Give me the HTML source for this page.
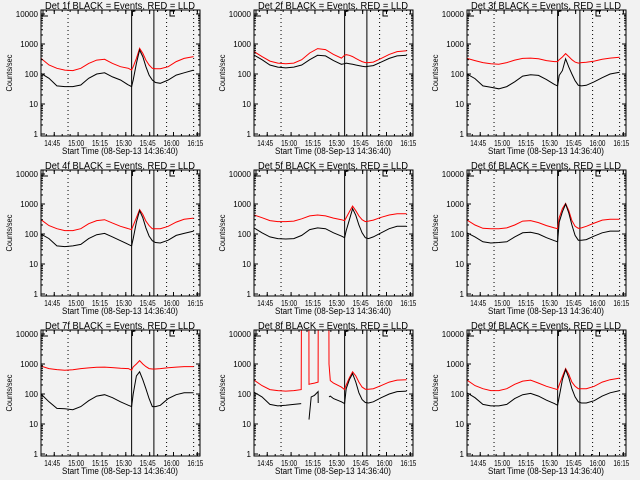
<!DOCTYPE html>
<html><head><meta charset="utf-8">
<style>
html,body{margin:0;padding:0;background:#f2f2f2;}
#wrap{position:relative;width:640px;height:480px;overflow:hidden;background:#f2f2f2;}
svg text{font-family:"Liberation Sans",sans-serif;fill:#000;}
</style></head>
<body>
<div id="wrap">
<svg id="chart" width="640" height="480" viewBox="0 0 640 480" xmlns="http://www.w3.org/2000/svg"></svg>
</div>
<script>
// ---- data (minutes after 14:36:40, counts/sec) ----
const times = [0,5,10,15,20,25,30,35,40,45,50,55,57,58,60,62,64,66,68,70,72,75,80,85,90,96];
const xTickLabels = ["14:45","15:00","15:15","15:30","15:45","16:00","16:15"];
const xTickTimes = [8.33,23.33,38.33,53.33,68.33,83.33,98.33];
const yTickLabels = ["1","10","100","1000","10000"];
const yTickValues = [1,10,100,1000,10000];
const dottedTimes = [17,79,96];
const solidTimes = [57,71];
const detNames = ["1f","2f","3f","4f","5f","6f","7f","8f","9f"];

const black1 = [105,72,40,38,38,43,72,100,110,80,63,43,38,63,225,630,380,175,92,63,52,49,63,92,110,135];
const red1   = [330,200,155,135,130,155,225,290,310,225,175,155,135,175,330,720,490,290,200,155,150,150,175,260,330,380];
const black2 = [430,300,200,170,160,170,200,300,420,400,280,210,220,230,220,210,200,190,180,175,180,190,250,330,400,420];
const red2   = [560,380,270,230,220,230,300,500,700,650,450,340,420,440,420,380,330,290,260,240,240,250,330,450,560,600];
const black3 = [100,70,40,36,32,38,55,85,95,90,65,45,40,90,130,320,170,100,60,42,40,42,55,75,100,115];
const red3   = [330,280,240,220,210,240,290,330,340,320,280,260,260,300,370,480,380,300,250,230,240,245,270,310,340,360];
const black4 = [100,70,40,38,40,45,70,95,105,80,60,45,40,70,250,600,350,160,85,60,52,50,62,90,105,125];
const red4   = [300,190,150,130,130,150,220,280,300,230,180,150,140,190,350,650,450,270,190,150,150,150,180,250,310,340];
const black5 = [160,110,80,70,68,70,90,140,160,150,110,85,75,130,300,700,420,200,110,75,70,80,110,150,180,180];
const red5   = [430,350,280,260,260,270,320,400,430,400,340,300,280,350,550,850,600,400,300,260,270,290,360,430,470,470];
const black6 = [110,80,55,50,52,55,80,110,115,100,75,60,55,250,550,1000,500,200,90,62,62,65,85,110,125,125];
const red6   = [290,200,155,150,150,160,200,270,280,240,190,160,150,350,700,1050,600,280,180,155,160,180,230,290,310,310];
const black7 = [100,55,33,32,30,38,60,85,95,75,55,42,38,100,400,550,300,150,70,38,38,42,70,95,110,110];
const red7   = [850,700,650,620,640,700,740,780,790,760,720,700,620,800,1000,1300,1000,820,700,680,680,700,750,790,820,820];
const black9 = [110,75,45,40,40,45,70,95,105,85,62,48,42,80,300,650,350,150,80,55,50,50,60,85,110,130];
const red9   = [290,190,150,130,130,150,210,270,290,230,180,150,140,200,380,700,450,250,180,150,150,150,180,250,300,340];

const times8 = [0,5,10,15,20,25,29.7,29.8,30,31,33,34.5,34.6,36,38,40.3,40.4,44,47.1,47.2,48,50,55,57,58,60,62,64,66,68,70,72,75,80,85,90,96];
const black8 = [115,80,45,40,42,45,48,null,null,null,null,null,14,80,90,120,50,null,null,80,85,70,55,48,150,300,480,250,110,65,52,50,55,75,100,120,125];
const red8   = [290,190,140,130,125,130,140,20000,20000,20000,20000,20000,210,220,230,250,20000,20000,20000,1000,280,230,170,140,200,350,550,400,250,170,145,145,150,190,250,290,300];

const panels = [
 {t:times,b:black1,r:red1},{t:times,b:black2,r:red2},{t:times,b:black3,r:red3},
 {t:times,b:black4,r:red4},{t:times,b:black5,r:red5},{t:times,b:black6,r:red6},
 {t:times,b:black7,r:red7},{t:times8,b:black8,r:red8},{t:times,b:black9,r:red9}
];

// ---- drawing ----
const NS="http://www.w3.org/2000/svg";
const svg=document.getElementById('chart');
const X0=41,X1=200,Y0=10,Y1=136;
function xs(t){return X0+t*1.59;}
function ys(v){return 134-30*Math.log10(v);}
function mk(tag,attrs,parent){const e=document.createElementNS(NS,tag);for(const k in attrs)e.setAttribute(k,attrs[k]);parent.appendChild(e);return e;}

panels.forEach((p,i)=>{
  const ox=(i%3)*213, oy=Math.floor(i/3)*160;
  const g=mk('g',{transform:`translate(${ox},${oy})`},svg);
  
  
  const cid='clip'+i;
  const cp=mk('clipPath',{id:cid},g);
  mk('rect',{x:X0,y:Y0,width:X1-X0,height:Y1-Y0},cp);

  dottedTimes.forEach(t=>{
    const l=mk('line',{x1:xs(t),x2:xs(t),y1:Y0,y2:Y1,stroke:'#000','stroke-width':1,'stroke-dasharray':'1,3'},g);
    
    
  });
  solidTimes.forEach(t=>{
    const l=mk('line',{x1:xs(t),x2:xs(t),y1:Y0,y2:Y1,stroke:'#000','stroke-width':1},g);
    
    
  });

  function series(vals,color,name){
    let d='',pen=false;
    vals.forEach((v,j)=>{
      if(v===null){pen=false;return;}
      d+=(pen?'L':'M')+xs(p.t[j]).toFixed(1)+','+ys(v).toFixed(1);
      pen=true;
    });
    const path=mk('path',{d:d,fill:'none',stroke:color,'stroke-width':1,'clip-path':`url(#${cid})`},g);
    
    
  }
  series(p.r,'#ff0000','red-lld-series');
  series(p.b,'#000000','black-events-series');

  const fr=mk('rect',{x:X0,y:Y0,width:X1-X0,height:Y1-Y0,fill:'none',stroke:'#000','stroke-width':1},g);
  
  

  yTickValues.forEach((v,k)=>{
    const y=ys(v);
    mk('line',{x1:X0,x2:X0+4,y1:y,y2:y,stroke:'#000'},g);
    mk('line',{x1:X1-4,x2:X1,y1:y,y2:y,stroke:'#000'},g);
    const tx=mk('text',{x:38,y:y+3,'font-size':8,'text-anchor':'end'},g);
    tx.textContent=yTickLabels[k];
    
    
    if(v<10000){for(let m=2;m<10;m++){const ym=ys(v*m);
      mk('line',{x1:X0,x2:X0+2,y1:ym,y2:ym,stroke:'#000'},g);
      mk('line',{x1:X1-2,x2:X1,y1:ym,y2:ym,stroke:'#000'},g);}}
  });
  for(let t=3.33;t<100;t+=5){const x=xs(t);
    mk('line',{x1:x,x2:x,y1:Y1,y2:Y1-2,stroke:'#000'},g);
    mk('line',{x1:x,x2:x,y1:Y0,y2:Y0+2,stroke:'#000'},g);}
  xTickTimes.forEach((t,k)=>{
    const x=xs(t);
    mk('line',{x1:x,x2:x,y1:Y1,y2:Y1-4,stroke:'#000'},g);
    mk('line',{x1:x,x2:x,y1:Y0,y2:Y0+4,stroke:'#000'},g);
    const tx=mk('text',{x:x-2,y:146,'font-size':8,'text-anchor':'middle',textLength:16,lengthAdjust:'spacingAndGlyphs'},g);
    tx.textContent=xTickLabels[k];
    
    
  });
  mk('path',{d:'M43,10V16H48',fill:'none',stroke:'#000'},g);
  mk('path',{d:`M${xs(57.5)},11V16M${xs(57.5)},11H${xs(57.5)+3}`,fill:'none',stroke:'#000'},g);
  mk('path',{d:'M175,11H170V16H175',fill:'none',stroke:'#000'},g);
  const tt=mk('text',{x:120,y:9,'font-size':10,'text-anchor':'middle',textLength:150,lengthAdjust:'spacingAndGlyphs'},g);
  tt.textContent=`Det ${detNames[i]} BLACK = Events, RED = LLD`;
  
  
  const xt=mk('text',{x:120,y:154,'font-size':9,'text-anchor':'middle',textLength:116,lengthAdjust:'spacingAndGlyphs'},g);
  xt.textContent='Start Time (08-Sep-13 14:36:40)';
  
  
  const yt=mk('text',{x:0,y:0,'font-size':8,'text-anchor':'middle',transform:'translate(12,73) rotate(-90)',textLength:37,lengthAdjust:'spacingAndGlyphs'},g);
  yt.textContent='Counts/sec';
  
  
});
</script>
</body></html>
